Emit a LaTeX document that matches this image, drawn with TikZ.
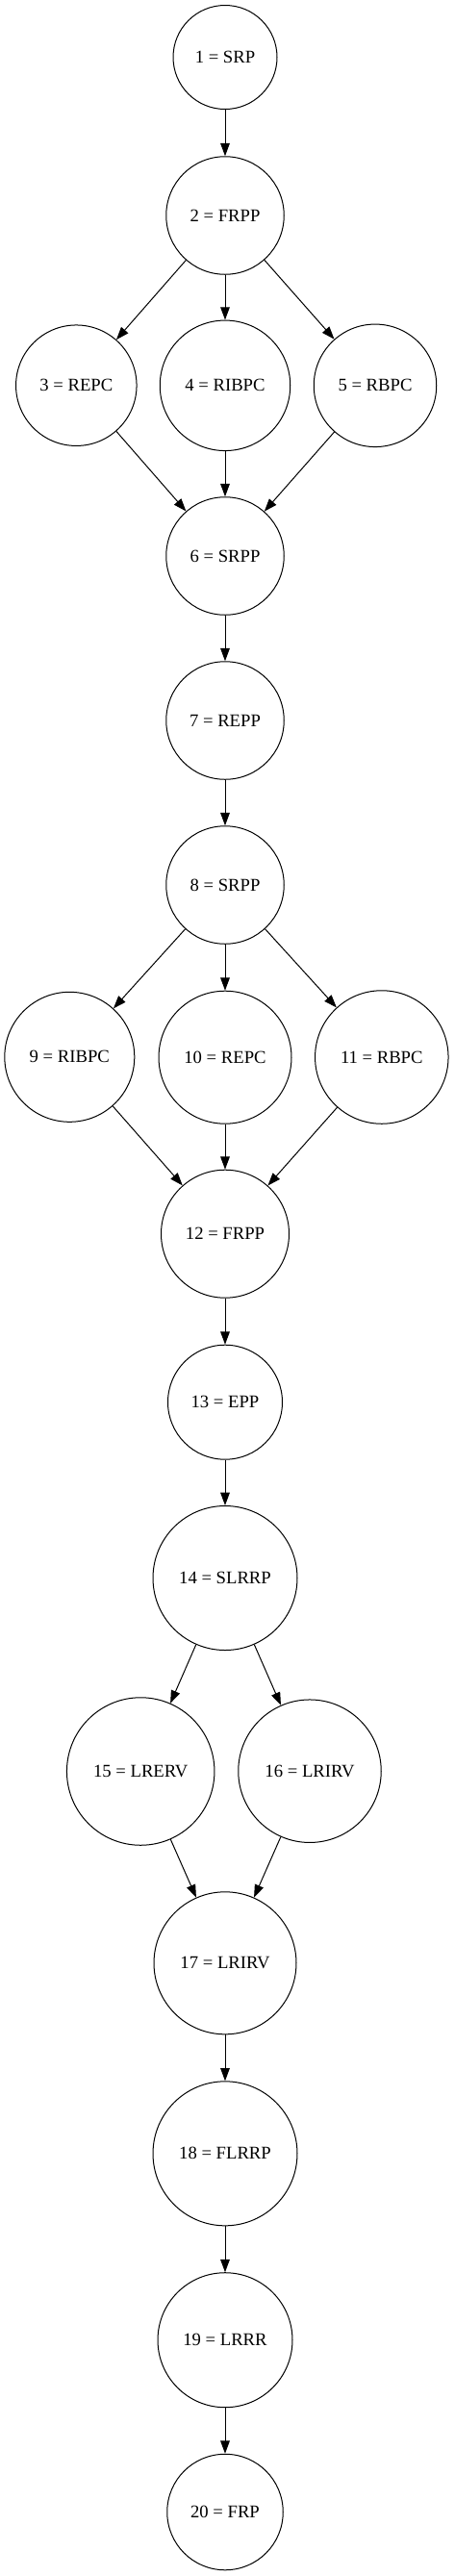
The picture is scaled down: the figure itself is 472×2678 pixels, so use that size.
\documentclass[tikz,border=0pt]{standalone}
\usepackage{fontspec}
\setmainfont{Liberation Serif}
\usetikzlibrary{arrows.meta}
\begin{document}
\begin{tikzpicture}[x=1pt,y=-1pt,
  nd/.style={circle,draw,line width=1pt,inner sep=0pt,font=\fontsize{18.67}{22}\selectfont},
  arr/.style={-{Triangle[length=13.3pt,width=9.6pt]},line width=1pt}]
\useasboundingbox[fill=white] (0,0) rectangle (472,2678);
\node[nd,minimum size=108pt] (n1) at (234,59.5) {1 = SRP};
\node[nd,minimum size=122.5pt] (n2) at (234,224) {2 = FRPP};
\node[nd,minimum size=125.5pt] (n3) at (79.3,400.7) {3 = REPC};
\node[nd,minimum size=135.5pt] (n4) at (234,400.8) {4 = RIBPC};
\node[nd,minimum size=127.5pt] (n5) at (390,400.8) {5 = RBPC};
\node[nd,minimum size=122.5pt] (n6) at (234,578) {6 = SRPP};
\node[nd,minimum size=122.5pt] (n7) at (234,749) {7 = REPP};
\node[nd,minimum size=122.5pt] (n8) at (234,920) {8 = SRPP};
\node[nd,minimum size=135pt] (n9) at (72.3,1098.8) {9 = RIBPC};
\node[nd,minimum size=138pt] (n10) at (234,1099.2) {10 = REPC};
\node[nd,minimum size=138.5pt] (n11) at (396.8,1099) {11 = RBPC};
\node[nd,minimum size=133pt] (n12) at (234,1282.7) {12 = FRPP};
\node[nd,minimum size=119pt] (n13) at (234,1457.7) {13 = EPP};
\node[nd,minimum size=150pt] (n14) at (234,1640.5) {14 = SLRRP};
\node[nd,minimum size=153.5pt] (n15) at (146.2,1841.5) {15 = LRERV};
\node[nd,minimum size=148.5pt] (n16) at (322,1841.2) {16 = LRIRV};
\node[nd,minimum size=148pt] (n17) at (234,2040.8) {17 = LRIRV};
\node[nd,minimum size=150pt] (n18) at (234,2238.8) {18 = FLRRP};
\node[nd,minimum size=140pt] (n19) at (234,2432.7) {19 = LRRR};
\node[nd,minimum size=120.5pt] (n20) at (234,2611.5) {20 = FRP};
\draw[arr] (n1) -- (n2);
\draw[arr] (n2) -- (n3);
\draw[arr] (n2) -- (n4);
\draw[arr] (n2) -- (n5);
\draw[arr] (n3) -- (n6);
\draw[arr] (n4) -- (n6);
\draw[arr] (n5) -- (n6);
\draw[arr] (n6) -- (n7);
\draw[arr] (n7) -- (n8);
\draw[arr] (n8) -- (n9);
\draw[arr] (n8) -- (n10);
\draw[arr] (n8) -- (n11);
\draw[arr] (n9) -- (n12);
\draw[arr] (n10) -- (n12);
\draw[arr] (n11) -- (n12);
\draw[arr] (n12) -- (n13);
\draw[arr] (n13) -- (n14);
\draw[arr] (n14) -- (n15);
\draw[arr] (n14) -- (n16);
\draw[arr] (n15) -- (n17);
\draw[arr] (n16) -- (n17);
\draw[arr] (n17) -- (n18);
\draw[arr] (n18) -- (n19);
\draw[arr] (n19) -- (n20);
\end{tikzpicture}
\end{document}
